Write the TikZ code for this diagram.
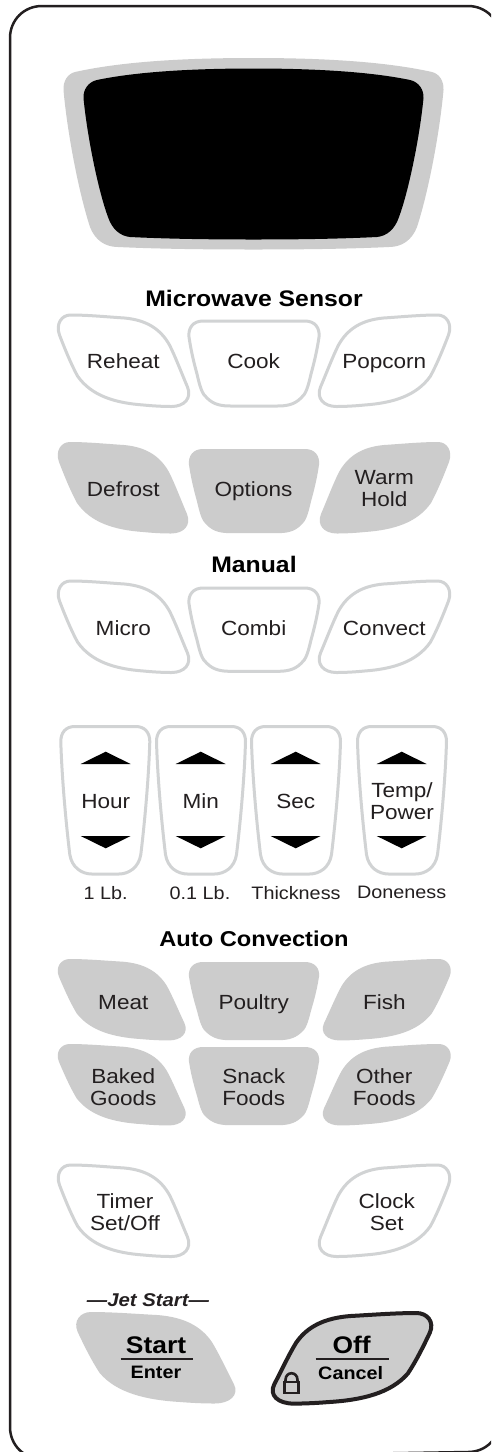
\documentclass[tikz,border=0pt]{standalone}
\usepackage{fontspec}
\setmainfont{Liberation Sans}
\newfontfamily\kf[FakeStretch=1.1]{Liberation Sans}
\definecolor{keygray}{HTML}{CCCCCC}
\definecolor{rimgray}{HTML}{D1D3D4}
\definecolor{inkdark}{HTML}{231F20}
\newcommand\shpSide{(12,0) .. controls (30,0) and (50,2) .. (66,3) .. controls (88,5) and (102,14) .. (111,30) .. controls (117,42) and (123,58) .. (129,72) .. controls (133.5,83) and (126,91.5) .. (113,91.5) .. controls (105,91.5) and (95,91) .. (85,90) .. controls (57,88) and (33,81) .. (19,61) .. controls (12,48) and (6,33) .. (1,20) .. controls (-3,9) and (3,0) .. (12,0) -- cycle}
\newcommand\shpMid{(14,0) -- (116,0) .. controls (126,0) and (131,7) .. (130,16) .. controls (128,30) and (125,42) .. (122,53) .. controls (119,66) and (117,73) .. (112,77) .. controls (105,84) and (97,85) .. (88,85) -- (42,85) .. controls (33,85) and (25,84) .. (18,77) .. controls (13,73) and (11,66) .. (8,53) .. controls (5,42) and (2,30) .. (0,16) .. controls (-1,7) and (4,0) .. (14,0) -- cycle}
\newcommand\shpTall{(14,0) -- (75,0) .. controls (84,0) and (89,6) .. (89,15) .. controls (88,50) and (84,95) .. (80,128) .. controls (78,141) and (68,147.5) .. (58,147.5) -- (31,147.5) .. controls (21,147.5) and (11,141) .. (9,128) .. controls (5,95) and (1,50) .. (0,15) .. controls (0,6) and (5,0) .. (14,0) -- cycle}
\tikzset{
  rim/.style={draw=rimgray,line width=3pt,fill=white},
  solid key/.style={fill=keygray},
  lbl/.style={font=\kf\fontsize{20.5}{22}\selectfont,text=inkdark,align=center,inner sep=0pt,yshift=-3pt,
    execute at begin node=\strut,execute at end node=\strut},
  sub/.style={font=\kf\fontsize{18}{22}\selectfont,text=inkdark,inner sep=0pt},
  head/.style={font=\kf\bfseries\fontsize{22.5}{26}\selectfont,text=black,inner sep=0pt},
  big/.style={font=\kf\bfseries\fontsize{24}{26}\selectfont,text=black,inner sep=0pt},
  small/.style={font=\kf\bfseries\fontsize{18}{22}\selectfont,text=black,inner sep=0pt},
  tri/.style={fill=black,draw=none}
}
\begin{document}
\begin{tikzpicture}[x=1pt,y=-1pt]
\useasboundingbox (0,0) rectangle (491,1452);
\clip (0,0) rectangle (491,1452);
\fill[white] (0,0) rectangle (491,1452);
% frame
\draw[inkdark,line width=2.5pt] (10,38) .. controls (10,20) and (24,6) .. (42,6) -- (468,6)
  .. controls (486,6) and (500,20) .. (500,38) -- (500,1420)
  .. controls (500,1438) and (486,1452) .. (468,1452) -- (42,1459)
  .. controls (24,1459) and (10,1445) .. (10,1427) -- cycle;
% display
\fill[keygray] (253.5,58) .. controls (180,58) and (120,62) .. (75,72) .. controls (67,74) and (63,82) .. (63.5,90)
  .. controls (67,130) and (78,190) .. (90,227) .. controls (95,240) and (105,247) .. (118,247)
  .. controls (160,249) and (210,249.5) .. (253.5,249.5) .. controls (297,249.5) and (347,249) .. (389,247)
  .. controls (402,247) and (412,240) .. (417,227) .. controls (429,190) and (440,130) .. (443.5,90)
  .. controls (444,82) and (440,74) .. (432,72) .. controls (387,62) and (327,58) .. (253.5,58) -- cycle;
\fill[black] (253.5,68.5) .. controls (190,68.5) and (135,72) .. (97,80) .. controls (88,82) and (83,90) .. (83.5,98)
  .. controls (87,135) and (98,190) .. (108,217) .. controls (112,229) and (120,236) .. (130,237)
  .. controls (170,239) and (215,239.5) .. (253.5,239.5) .. controls (292,239.5) and (337,239) .. (377,237)
  .. controls (387,236) and (395,229) .. (399,217) .. controls (409,190) and (420,135) .. (423.5,98)
  .. controls (424,90) and (419,82) .. (410,80) .. controls (372,72) and (317,68.5) .. (253.5,68.5) -- cycle;
% row 1
\draw[rim,shift={(58.5,315)}] \shpSide;
\draw[rim,shift={(189,321)}] \shpMid;
\draw[rim,shift={(449.5,315)},xscale=-1] \shpSide;
% row 2
\fill[solid key,shift={(58,442)}] \shpSide;
\fill[solid key,shift={(189,449)},yscale=.99] \shpMid;
\fill[solid key,shift={(450,442)},xscale=-1] \shpSide;
% row 3
\draw[rim,shift={(58.5,581)}] \shpSide;
\draw[rim,shift={(189,588)},yscale=.98] \shpMid;
\draw[rim,shift={(449.5,581)},xscale=-1] \shpSide;
% tall keys
\draw[rim,shift={(60.8,726.5)}] \shpTall;
\draw[rim,shift={(156.5,726.5)}] \shpTall;
\draw[rim,shift={(251.5,726.5)}] \shpTall;
\draw[rim,shift={(357.5,726.5)}] \shpTall;
\foreach \cx in {105.7,200.7,295.7,401.7}{
  \fill[tri] (\cx-25,764) -- (\cx,751.7) -- (\cx+25,764) -- cycle;
  \fill[tri] (\cx-25,836) -- (\cx,848.3) -- (\cx+25,836) -- cycle;
}
% auto rows
\fill[solid key,shift={(58,959)},xscale=.98,yscale=.89] \shpSide;
\fill[solid key,shift={(189,962)},yscale=.92] \shpMid;
\fill[solid key,shift={(450.5,959)},xscale=-.98,yscale=.89] \shpSide;
\fill[solid key,shift={(58,1044)},xscale=.98,yscale=.89] \shpSide;
\fill[solid key,shift={(189,1047)},yscale=.92] \shpMid;
\fill[solid key,shift={(450.5,1044)},xscale=-.98,yscale=.89] \shpSide;
% timer / clock
\draw[rim,shift={(58.5,1165)}] \shpSide;
\draw[rim,shift={(449.5,1165)},xscale=-1] \shpSide;
% start / off
\fill[solid key,shift={(76.5,1312)},xscale=1.22] \shpSide;
\draw[draw=inkdark,line width=4pt,fill=keygray,shift={(431,1313)},xscale=-1.215,yscale=.99] \shpSide;
% labels
\node[head] (tMicro) at (254,298) {Microwave Sensor};
\node[lbl] (kReheat) at (123.3,361) {Reheat};
\node[lbl] (kCook) at (253.7,361) {Cook};
\node[lbl] (kPop) at (384.3,361) {Popcorn};
\node[lbl] (kDefrost) at (123.3,489) {Defrost};
\node[lbl] (kOptions) at (253.5,489) {Options};
\node[lbl] (kWarm) at (384.3,489) {Warm\\Hold};
\node[head] (tManual) at (254,564) {Manual};
\node[lbl] (kMicro) at (123.3,628.3) {Micro};
\node[lbl] (kCombi) at (253.7,628.3) {Combi};
\node[lbl] (kConvect) at (384.3,628.3) {Convect};
\node[lbl] (kHour) at (105.7,800.7) {Hour};
\node[lbl] (kMin) at (200.7,800.7) {Min};
\node[lbl] (kSec) at (295.7,800.7) {Sec};
\node[lbl] (kTemp) at (402,801.5) {Temp/\\Power};
\node[sub] (s1) at (105.7,892.7) {1 Lb.};
\node[sub] (s2) at (200,892.7) {0.1 Lb.};
\node[sub] (s3) at (296,892.7) {Thickness};
\node[sub] (s4) at (401.7,892.7) {Doneness};
\node[head,font=\kf\bfseries\fontsize{21.5}{26}\selectfont] (tAuto) at (254,939) {Auto Convection};
\node[lbl] (kMeat) at (123.3,1001.7) {Meat};
\node[lbl] (kPoultry) at (253.7,1002) {Poultry};
\node[lbl] (kFish) at (384.3,1001.7) {Fish};
\node[lbl] (kBaked) at (123.3,1087) {Baked\\Goods};
\node[lbl] (kSnack) at (253.7,1087) {Snack\\Foods};
\node[lbl] (kOther) at (384.3,1087) {Other\\Foods};
\node[lbl] (kTimer) at (125,1212) {Timer\\Set/Off};
\node[lbl] (kClock) at (386.7,1212) {Clock\\Set};
\node[font=\kf\bfseries\itshape\fontsize{18.5}{22}\selectfont,text=inkdark,inner sep=0pt] (tJet) at (148,1300) {—Jet Start—};
\node[big] (kStart) at (156,1345) {Start};
\node[small] (kEnter) at (156,1372.7) {Enter};
\node[big] (kOff) at (351.7,1345) {Off};
\node[small] (kCancel) at (350.7,1372.7) {Cancel};
\draw[inkdark,line width=2pt] (120.7,1359) -- (193.3,1359);
\draw[inkdark,line width=2pt] (315.7,1359) -- (389,1359);
% lock
\draw[inkdark,line width=2.6pt] (284.5,1382) rectangle (298.5,1393);
\draw[inkdark,line width=2.6pt] (285.5,1382) -- (285.5,1380) .. controls (285.5,1371) and (297.5,1371) .. (297.5,1380) -- (297.5,1382);
\end{tikzpicture}
\end{document}
